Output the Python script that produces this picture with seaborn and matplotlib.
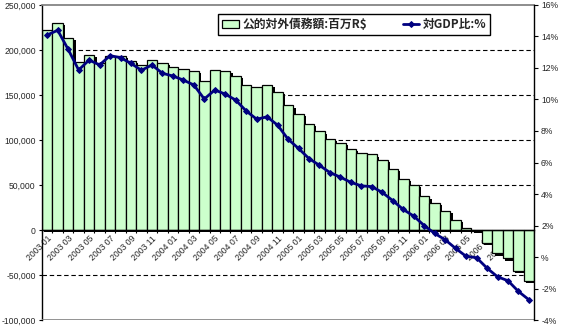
import numpy as np
import pandas as pd
import matplotlib
matplotlib.use("Agg")
import matplotlib.pyplot as plt
import matplotlib.patheffects as pe
from matplotlib.ticker import FuncFormatter
import seaborn as sns

# ---- data -------------------------------------------------------------
months = [f"{y} {m:02d}" for y in (2003, 2004, 2005, 2006) for m in range(1, 13)][:47]
debt = [222000, 230000, 213000, 187000, 194500, 186000, 193500, 193500, 188000, 183500,
        188500, 185500, 181400, 178800, 176600, 165500, 177700, 176600, 171400, 161000,
        159000, 161000, 153300, 138500, 128800, 117600, 109600, 101000, 96600, 90000,
        85300, 84000, 77800, 67800, 56700, 50000, 37400, 29800, 21000, 11000,
        2200, -1200, -14000, -25800, -31500, -45100, -56500]
gdp_ratio = [14.09, 14.39, 13.18, 11.87, 12.50, 12.19, 12.78, 12.65, 12.29, 11.85,
             12.19, 11.66, 11.49, 11.23, 10.92, 10.03, 10.60, 10.34, 9.96, 9.27,
             8.75, 8.90, 8.37, 7.48, 6.89, 6.25, 5.82, 5.36, 5.07, 4.74,
             4.52, 4.47, 4.10, 3.58, 3.02, 2.60, 2.00, 1.50, 1.10, 0.55,
             0.05, -0.04, -0.70, -1.25, -1.50, -2.18, -2.71]
bar_label = "公的対外債務額:百万R$"
line_label = "対GDP比:%"
left_ticks = [-100000, -50000, 0, 50000, 100000, 150000, 200000, 250000]
right_ticks = [-4, -2, 0, 2, 4, 6, 8, 10, 12, 14, 16]

df = pd.DataFrame({"month": months, "debt": debt, "ratio": gdp_ratio})

# ---- style ------------------------------------------------------------
sns.set_theme(style="white")
plt.rcParams["font.family"] = ["Liberation Sans", "Noto Sans CJK JP", "DejaVu Sans"]

fig, ax = plt.subplots(figsize=(5.75, 3.26), dpi=100)
fig.subplots_adjust(left=0.073, right=0.929, top=0.985, bottom=0.018)

sns.barplot(data=df, x="month", y="debt", ax=ax, color="#CCFFCC", saturation=1,
            edgecolor="black", linewidth=0.9, width=1.0, label=bar_label, zorder=2)

ax.set_ylim(left_ticks[0], left_ticks[-1])
ax.set_yticks(left_ticks)
ax.yaxis.set_major_formatter(FuncFormatter(lambda v, p: f"{v:,.0f}"))
ax.set_xlim(-0.5, len(months) - 0.5)

# grid
ax.set_axisbelow(True)
ax.yaxis.grid(True, color="black", linestyle=(0, (4, 2.5)), linewidth=0.8)
for gl, t in zip(ax.yaxis.get_gridlines(), left_ticks):
    if t in (left_ticks[0], 0, left_ticks[-1]):
        gl.set_visible(False)

# x axis on zero line
ax.spines["bottom"].set_position(("data", 0))
ax.spines["bottom"].set_color("black")
ax.spines["bottom"].set_linewidth(1.0)
ax.spines["bottom"].set_zorder(3)
ax.spines["left"].set_color("black")
ax.spines["left"].set_linewidth(1.0)
ax.spines["top"].set_color("#808080")
ax.spines["right"].set_visible(False)
ax.axhline(left_ticks[0], color="#808080", lw=1.2, zorder=3)

ax.set_xticks(range(len(months)))
ax.set_xticklabels([m if i % 2 == 0 else "" for i, m in enumerate(months)],
                   rotation=45, ha="right", rotation_mode="anchor", fontsize=6.2)
ax.set_xticks(np.arange(-0.5, len(months), 1), minor=True)
ax.tick_params(axis="x", which="major", length=0, pad=3)
ax.tick_params(axis="x", which="minor", length=2.5, width=0.8, direction="out",
               color="black", bottom=True)
ax.tick_params(axis="y", length=2.5, width=0.8, direction="out", labelsize=6.2,
               color="black", left=True, pad=2)
ax.set_xlabel("")
ax.set_ylabel("")

# ---- line on secondary axis -------------------------------------------
ax2 = ax.twinx()
sns.lineplot(data=df, x="month", y="ratio", ax=ax2, color="#000080", linewidth=2.0,
             marker="D", markersize=3.0, markeredgecolor="#000080", label=line_label,
             sort=False)
ax2.set_ylim(right_ticks[0], right_ticks[-1])
ax2.set_yticks(right_ticks)
ax2.yaxis.set_major_formatter(FuncFormatter(lambda v, p: "%" if v == 0 else f"{v:.0f}%"))
ax2.tick_params(axis="y", length=3, width=0.8, direction="out", labelsize=6.2,
                color="black", right=True, pad=2)
ax2.set_ylabel("")
ax2.set_xlabel("")
for s in ("top", "left", "bottom"):
    ax2.spines[s].set_visible(False)
ax2.spines["right"].set_color("black")
ax2.spines["right"].set_linewidth(1.0)

# legend
h1, l1 = ax.get_legend_handles_labels()
h2, l2 = ax2.get_legend_handles_labels()
if ax.get_legend() is not None:
    ax.get_legend().remove()
leg = ax2.legend(h1 + h2, l1 + l2, ncol=2, loc="upper left",
                 bbox_to_anchor=(0.358, 0.972), frameon=True, fancybox=False,
                 edgecolor="black", framealpha=1, borderpad=0.35,
                 columnspacing=3.0, handletextpad=0.3, handlelength=1.4,
                 borderaxespad=0,
                 prop={"family": ["Noto Sans CJK JP", "DejaVu Sans"],
                       "size": 8.5, "weight": "bold"})
leg.get_frame().set_linewidth(1.0)

# bar shadows (applied after legend creation)
for p in ax.patches:
    p.set_path_effects([pe.SimplePatchShadow(offset=(1.6, -1.6), shadow_rgbFace="black",
                                             alpha=1.0), pe.Normal()])

fig.savefig("out.png", dpi=100)
